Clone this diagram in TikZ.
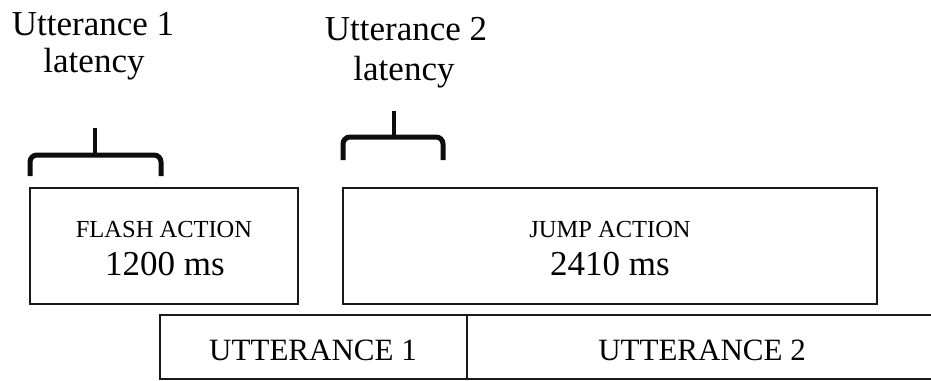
\documentclass[tikz,border=0pt]{standalone}
\usepackage{fontspec}
\setmainfont{Liberation Serif}
\begin{document}
\begin{tikzpicture}[x=1pt,y=-1pt,
  box/.style={draw=black!90,line width=1.8pt,inner sep=0pt,outer sep=0pt},
  lbl/.style={anchor=base,inner sep=0pt},
  bracepath/.style={draw=black!95,line width=5pt,rounded corners=7pt},
  tippath/.style={draw=black!95,line width=4.5pt}]
\useasboundingbox (0,0) rectangle (931,380);
% action boxes
\node[box,minimum width=268pt,minimum height=116pt] (flash) at (164,246) {};
\node[box,minimum width=534pt,minimum height=116pt] (jump) at (610,246) {};
% utterance bar
\node[box,minimum width=307pt,minimum height=64pt] (u1) at (313.5,347) {};
\node[box,minimum width=468pt,minimum height=64pt] (u2) at (701,347) {};
% texts
\node[lbl,font=\fontsize{24.5}{28}\selectfont] (flasht) at (164,237) {FLASH ACTION};
\node[lbl,font=\fontsize{35}{40}\selectfont] (flashms) at (165,275) {1200 ms};
\node[lbl,font=\fontsize{24.5}{28}\selectfont] (jumpt) at (610,237) {JUMP ACTION};
\node[lbl,font=\fontsize{35}{40}\selectfont] (jumpms) at (610,275) {2410 ms};
\node[lbl,font=\fontsize{31}{36}\selectfont] (u1t) at (313,360) {UTTERANCE 1};
\node[lbl,font=\fontsize{31}{36}\selectfont] (u2t) at (702,360) {UTTERANCE 2};
\node[lbl,font=\fontsize{35}{38}\selectfont] (lat1a) at (93,35) {Utterance 1};
\node[lbl,font=\fontsize{35}{38}\selectfont] (lat1b) at (94,72) {latency};
\node[lbl,font=\fontsize{35}{38}\selectfont] (lat2a) at (406,40) {Utterance 2};
\node[lbl,font=\fontsize{35}{38}\selectfont] (lat2b) at (404,80) {latency};
% braces
\coordinate (b1l) at (30,176);
\coordinate (b1r) at (161,176);
\coordinate (b1m) at (95,155);
\coordinate (b1t) at (95,128);
\path[bracepath] (b1l) |- (b1m) -| (b1r);
\path[tippath] (b1m) -- (b1t);
\coordinate (b2l) at (343,160);
\coordinate (b2r) at (443,160);
\coordinate (b2m) at (394,137);
\coordinate (b2t) at (394,111);
\path[bracepath] (b2l) |- (b2m) -| (b2r);
\path[tippath] (b2m) -- (b2t);
\end{tikzpicture}
\end{document}
